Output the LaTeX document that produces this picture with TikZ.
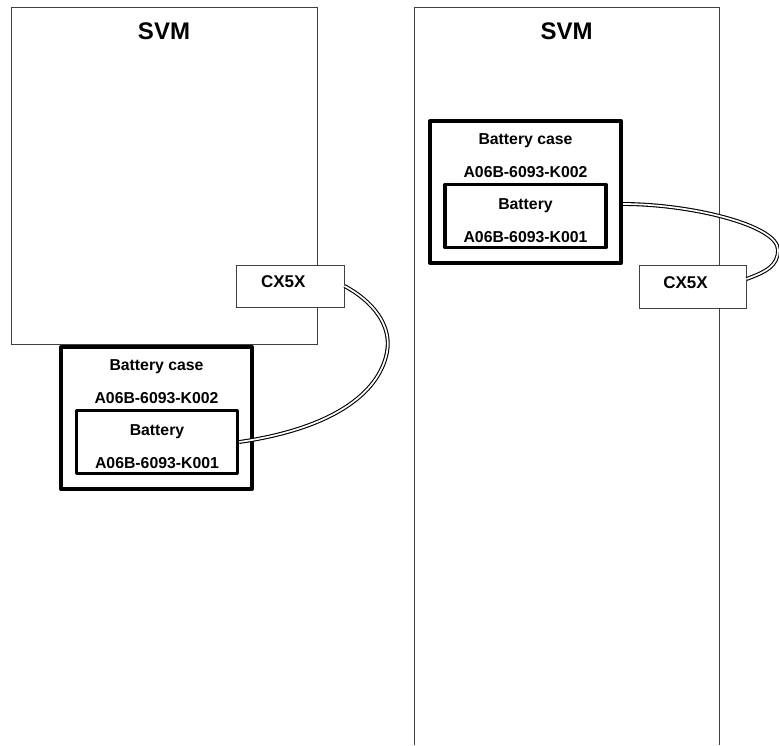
\documentclass[tikz,border=0pt]{standalone}
\usepackage{fontspec}
\setmainfont{Liberation Sans}
\usetikzlibrary{positioning}
\tikzset{
  svmbox/.style={draw=black!75, line width=0.9pt},
  svmtitle/.style={font=\bfseries\fontsize{24}{28}\selectfont, anchor=base, inner sep=0pt},
  portbox/.style={draw=black!75, line width=0.9pt, fill=white, minimum width=108pt, minimum height=42pt, inner sep=0pt},
  portlbl/.style={font=\bfseries\fontsize{17}{20}\selectfont, anchor=base, inner sep=0pt},
  casebox/.style={draw, line width=4pt, fill=white, line join=round, minimum width=191pt, minimum height=142pt, inner sep=0pt},
  cellbox/.style={draw, line width=3.5pt, fill=white, line join=round, minimum width=161pt, minimum height=63pt, inner sep=0pt},
  txt/.style={font=\bfseries\fontsize{15.8}{18}\selectfont, anchor=base, inner sep=0pt},
  cable/.style={double, line width=1.1pt, double distance=1.7pt},
}
\begin{document}
\begin{tikzpicture}[x=1pt,y=-1pt]
\useasboundingbox (0,0) rectangle (779,745);
% left: battery case below the unit
\draw[svmbox] (11,7.5) rectangle (317,344);
\node[svmtitle] (svmL) at (164,39) {SVM};
\node[portbox] (cxL) at (290,286) {};
\node[portlbl] (cxLt) at (283.3,287.5) {CX5X};
\node[casebox] (caseL) at (156.5,418) {};
\node[txt] (caseLa) at (156.5,370) {Battery case};
\node[txt] (caseLb) at (156.5,403) {A06B-6093-K002};
\node[cellbox] (batL) at (157,442) {};
\node[txt] (batLa) at (157,435) {Battery};
\node[txt] (batLb) at (157,468) {A06B-6093-K001};
\coordinate (bendL) at (387,352);
\draw[cable] (cxL.east) .. controls +(28,15) and +(5,-27) .. (bendL)
  .. controls +(-8,43) and +(90,-13) .. (batL.east);
% right: battery case inside the unit
\draw[svmbox] (414,745) -- (414,7.5) -- (719,7.5) -- (719,745);
\node[svmtitle] (svmR) at (566.5,39) {SVM};
\node[casebox] (caseR) at (525.5,192) {};
\node[txt] (caseRa) at (525.5,144) {Battery case};
\node[txt] (caseRb) at (525.5,177) {A06B-6093-K002};
\node[cellbox] (batR) at (525.5,216) {};
\node[txt] (batRa) at (525.5,209) {Battery};
\node[txt] (batRb) at (525.5,242) {A06B-6093-K001};
\node[portbox, minimum width=107pt, minimum height=43pt] (cxR) at (692.5,286.5) {};
\node[portlbl] (cxRt) at (685.5,288) {CX5X};
\coordinate (bendR) at (778,250);
\draw[cable] ([yshift=-12pt]caseR.east) .. controls +(67,0) and +(0,-25) .. (bendR)
  .. controls +(0,16) and +(19,-7) .. ([yshift=7.5pt]cxR.east);
\end{tikzpicture}
\end{document}
